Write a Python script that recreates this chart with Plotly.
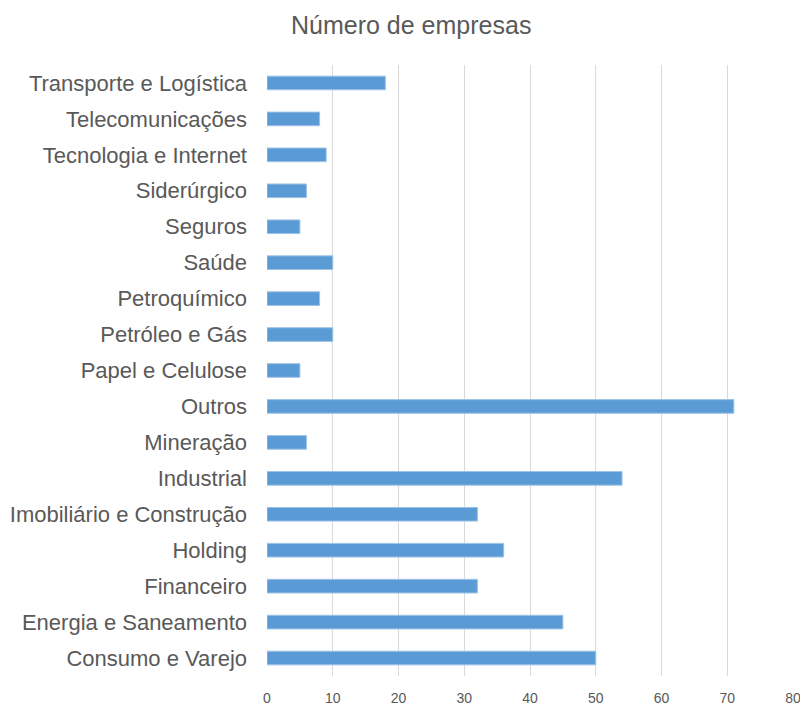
import plotly.graph_objects as go

categories = [
    "Consumo e Varejo", "Energia e Saneamento", "Financeiro", "Holding",
    "Imobiliário e Construção", "Industrial", "Mineração", "Outros",
    "Papel e Celulose", "Petróleo e Gás", "Petroquímico", "Saúde",
    "Seguros", "Siderúrgico", "Tecnologia e Internet", "Telecomunicações",
    "Transporte e Logística",
]
values = [50, 45, 32, 36, 32, 54, 6, 71, 5, 10, 8, 10, 5, 6, 9, 8, 18]
x_ticks = [0, 10, 20, 30, 40, 50, 60, 70, 80]
title = "Número de empresas"

fig = go.Figure(go.Bar(
    x=values, y=categories, orientation="h",
    marker=dict(color="#5B9BD5", line=dict(color="#9DC3E6", width=1)),
    width=0.38,
))

fig.update_layout(
    width=800, height=701,
    paper_bgcolor="white", plot_bgcolor="white",
    margin=dict(l=259, r=15, t=57, b=33, autoexpand=False),
    title=dict(text=title, x=0.504, xanchor="center", y=0.976, yanchor="middle",
               font=dict(family="Liberation Sans", size=25, color="#595959")),
    showlegend=False,
)
fig.update_xaxes(
    range=[0, 80], tickvals=x_ticks, showgrid=True, gridcolor="#D9D9D9",
    gridwidth=1, zeroline=False, showline=False, ticks="", automargin=False,
    tickfont=dict(family="Liberation Sans", size=14, color="#595959"),
    ticklabelstandoff=12,
)
fig.update_yaxes(
    type="category", showgrid=False, zeroline=False, showline=False, ticks="",
    automargin=False,
    tickfont=dict(family="Liberation Sans", size=22, color="#595959"),
    ticklabelstandoff=19,
)

fig.write_html("out.html")
